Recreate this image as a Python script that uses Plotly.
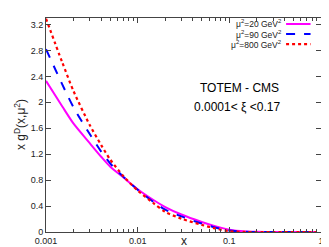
import plotly.graph_objects as go

x_vals = [0.001, 0.0015, 0.002, 0.003, 0.004, 0.005, 0.007, 0.01, 0.015, 0.02,
          0.03, 0.05, 0.07, 0.1, 0.15, 0.2, 0.3, 0.5, 0.88]
g_mu20 = [2.33, 1.94, 1.67, 1.37, 1.16, 1.01, 0.84, 0.66, 0.49, 0.385,
          0.27, 0.155, 0.09, 0.035, 0.008, 0.002, 0.0, 0.0, 0.0]
g_mu90 = [2.82, 2.28, 1.92, 1.51, 1.24, 1.06, 0.85, 0.65, 0.46, 0.345,
          0.24, 0.13, 0.07, 0.022, 0.004, 0.001, 0.0, 0.0, 0.0]
g_mu800 = [3.29, 2.62, 2.17, 1.65, 1.34, 1.12, 0.86, 0.64, 0.44, 0.31,
           0.205, 0.11, 0.055, 0.012, 0.001, 0.0, 0.0, 0.0, 0.0]

series_names = ["μ<sup>2</sup>=20 GeV<sup>2</sup>", "μ<sup>2</sup>=90 GeV<sup>2</sup>",
                "μ<sup>2</sup>=800 GeV<sup>2</sup>"]
series_vals = [g_mu20, g_mu90, g_mu800]
colors = ["#ff00ff", "#0000ff", "#ff0000"]
dashes = ["solid", "dash", "dot"]
widths = [2, 2, 2.2]

y_ticks = [0, 0.4, 0.8, 1.2, 1.6, 2, 2.4, 2.8, 3.2]
x_ticks = [0.001, 0.01, 0.1, 1]
x_tick_labels = ["0.001", "0.01", "0.1", "1"]

FONT = "Liberation Sans, Arial, sans-serif"

fig = go.Figure()
for name, vals, c, d, w in zip(series_names, series_vals, colors, dashes, widths):
    fig.add_trace(go.Scatter(x=x_vals, y=vals, mode="lines", name=name,
                             line=dict(color=c, dash=d, width=w, shape="spline",
                                       smoothing=0.7),
                             showlegend=False))

# manual legend (text on left, line sample on right)
for i, (name, c, d, w) in enumerate(zip(series_names, colors, dashes, widths)):
    yp = 0.972 - i * 0.047
    fig.add_annotation(x=0.862, y=yp, xref="paper", yref="paper", text=name,
                       showarrow=False, xanchor="right", yanchor="middle",
                       font=dict(family=FONT, size=8.5, color="#222"))
    fig.add_shape(type="line", xref="paper", yref="paper",
                  x0=0.873, x1=0.962, y0=yp, y1=yp,
                  line=dict(color=c, dash=d, width=w))

fig.add_annotation(x=0.705, y=0.675, xref="paper", yref="paper", text="TOTEM - CMS",
                   showarrow=False, xanchor="center", yanchor="middle",
                   font=dict(family=FONT, size=12, color="#000"))
fig.add_annotation(x=0.695, y=0.585, xref="paper", yref="paper",
                   text="0.0001< ξ <0.17", xanchor="center", yanchor="middle",
                   showarrow=False, font=dict(family=FONT, size=12, color="#000"))

fig.add_annotation(x=0.5, y=0, xref="paper", yref="paper", text="x",
                   showarrow=False, yanchor="middle", xanchor="center", yshift=-9,
                   font=dict(family=FONT, size=12, color="#222"))
fig.add_annotation(x=0, y=0.5, xref="paper", yref="paper",
                   text="x g<sup>D</sup>(x,μ<sup>2</sup>)", textangle=-90,
                   showarrow=False, xanchor="center", yanchor="middle", xshift=-26,
                   font=dict(family=FONT, size=12, color="#222"))

fig.update_layout(
    width=329, height=247,
    margin=dict(l=38, r=16, t=9, b=21),
    paper_bgcolor="white", plot_bgcolor="white",
    font=dict(family=FONT, size=9, color="#222"),
)
fig.update_xaxes(type="log", range=[-3, 0], tickvals=x_ticks, ticktext=x_tick_labels,
                 ticks="inside", ticklen=5, tickcolor="#444",
                 showline=True, linecolor="#444", linewidth=1, mirror="ticks",
                 showgrid=False, zeroline=False,
                 minor=dict(ticks="inside", ticklen=3, tickcolor="#444",
                            tickvals=[k * 10 ** e for e in (-3, -2, -1) for k in range(2, 10)],
                            showgrid=False),
                 tickfont=dict(size=9))
fig.update_yaxes(range=[0, 3.3], tickvals=y_ticks,
                 ticks="inside", ticklen=5, tickcolor="#444",
                 showline=True, linecolor="#444", linewidth=1, mirror="ticks",
                 showgrid=False, zeroline=False, tickfont=dict(size=9))

fig.write_html("out.html")
